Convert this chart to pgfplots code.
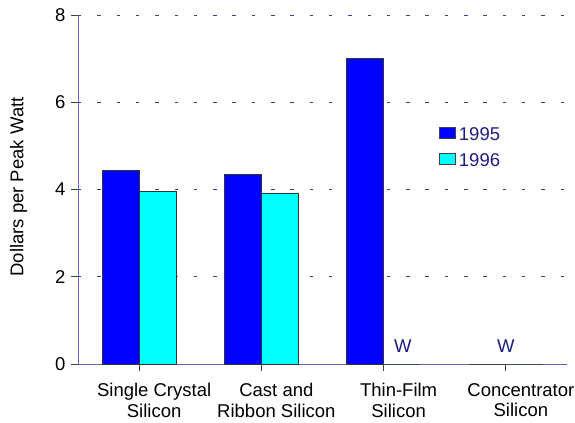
\documentclass[border=0pt]{standalone}
\usepackage{pgfplots}
\pgfplotsset{compat=1.18}
\usepackage{fontspec}
\setmainfont{Liberation Sans}
\definecolor{gridnavy}{RGB}{60,60,160}
\definecolor{axnavy}{RGB}{100,100,180}
\definecolor{txtnavy}{RGB}{30,30,130}
\definecolor{barblue}{RGB}{0,0,255}
\definecolor{barcyan}{RGB}{0,255,255}
\newcommand{\lblfont}{\fontsize{18.5bp}{20.4bp}\selectfont}
\begin{document}
\begin{tikzpicture}
\begin{axis}[
  scale only axis,
  width=489bp, height=349bp,
  ymin=0, ymax=8,
  xmin=-0.5, xmax=3.5,
  ytick={0,2,4,6,8},
  xtick={0,1,2,3},
  xticklabels={{Single Crystal\\Silicon},{Cast and\\Ribbon Silicon},{Thin-Film\\Silicon},{Concentrator\\Silicon}},
  xticklabel style={align=center, font=\lblfont, text=black, inner sep=0pt, anchor=north, xshift=15bp, yshift=-12bp},
  yticklabel style={font=\lblfont, text=black, inner sep=0pt, anchor=east, xshift=-5.5bp},
  /pgf/number format/assume math mode=true,
  axis x line*=bottom, axis y line*=left,
  axis line style={axnavy, line width=1pt, -},
  tick style={black!75, line width=0.8pt},
  major tick length=7bp,
  tick align=outside,
  ymajorgrids,
  grid style={gridnavy, dash pattern=on 3.5bp off 15.8bp, line width=0.8pt},
  ylabel={Dollars per Peak Watt},
  every axis y label/.style={at={(axis description cs:0,0.5)}, rotate=90, anchor=base, yshift=54.7bp, xshift=2.5bp, font=\lblfont},
  ybar=0pt, bar width=37bp,
  legend style={draw=none, fill=none, at={(0.732,0.685)}, anchor=north west,
    font=\lblfont, text=txtnavy, row sep=13bp, column sep=3bp,
    nodes={inner sep=0pt, text height=13bp, text depth=0pt}},
  legend cell align=left,
  legend image code/.code={\draw[#1, draw=black!75, line width=0.8pt] (0bp,-4.5bp) rectangle (16bp,6bp);},
]
\coordinate (o) at (rel axis cs:0,0);
\addplot[fill=barblue, draw=black!80, line width=0.7pt] coordinates {(0,4.43) (1,4.34) (2,7.0) (3,0)};
\addplot[fill=barcyan, draw=black!80, line width=0.7pt] coordinates {(0,3.96) (1,3.92) (2,0) (3,0)};
\legend{1995,1996}
\node[text=txtnavy, font=\lblfont, anchor=base, inner sep=0pt] at (axis cs:2.158,0.26) {W};
\node[text=txtnavy, font=\lblfont, anchor=base, inner sep=0pt] at (axis cs:3.0,0.26) {W};
\end{axis}
\pgfresetboundingbox
\path[use as bounding box] ([xshift=-78bp,yshift=-59bp]o) rectangle ++(575bp,423bp);
\end{tikzpicture}
\end{document}
